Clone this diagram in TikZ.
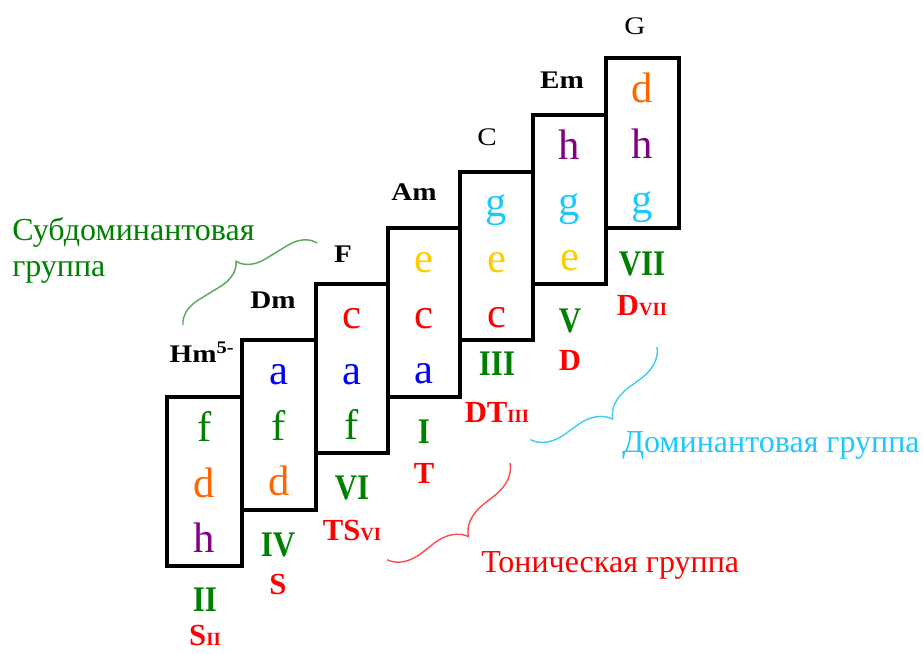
\documentclass[tikz,border=0pt]{standalone}
\usepackage{fontspec}
\setmainfont{Liberation Serif}
\newfontfamily\widefont[FakeStretch=1.15]{Liberation Serif}
\newfontfamily\narrowfont[FakeStretch=0.86]{Liberation Serif}
\usetikzlibrary{decorations.pathreplacing}
\definecolor{cgreen}{RGB}{0,128,0}
\definecolor{corange}{RGB}{255,102,0}
\definecolor{cpurple}{RGB}{128,0,128}
\definecolor{cblue}{RGB}{0,0,255}
\definecolor{cred}{RGB}{255,0,0}
\definecolor{cgold}{RGB}{255,204,0}
\definecolor{ccyan}{RGB}{30,200,255}
\definecolor{bgreen}{RGB}{90,170,90}
\definecolor{bred}{RGB}{255,80,80}
\definecolor{bcyan}{RGB}{70,205,240}
\newcommand{\subnum}[1]{{\fontsize{14}{14}\selectfont #1}}
\begin{document}
\begin{tikzpicture}[x=0.75pt,y=-0.75pt,
  box/.style={draw=black, line width=2.3pt},
  note/.style={font=\fontsize{32}{32}\selectfont, anchor=base, inner sep=0pt},
  chord/.style={font=\fontsize{19}{19}\selectfont\widefont\bfseries, anchor=base, inner sep=0pt},
  chordr/.style={font=\fontsize{19}{19}\selectfont\widefont, anchor=base, inner sep=0pt},
  deg/.style={font=\fontsize{27}{27}\selectfont\narrowfont\bfseries, text=cgreen, anchor=base, inner sep=0pt},
  fn/.style={font=\fontsize{23}{23}\selectfont\bfseries, text=cred, anchor=base, inner sep=0pt},
  grp/.style={font=\fontsize{24}{24}\selectfont, anchor=base west, inner sep=0pt},
  brc/.style={decorate, line width=1.1pt}]
\useasboundingbox (0,0) rectangle (923,653);

% boxes
\draw[box] (167,397) rectangle (242,566);
\draw[box] (242,340) rectangle (316,510);
\draw[box] (316,284) rectangle (388,453);
\draw[box] (388,228) rectangle (460,397);
\draw[box] (460,172) rectangle (533,340);
\draw[box] (533,115) rectangle (606,284);
\draw[box] (606,58) rectangle (679,228);

% box 1
\node[note, text=cgreen]  (n1a) at (204.5,441) {f};
\node[note, text=corange] (n1b) at (204.5,497) {d};
\node[note, text=cpurple] (n1c) at (204.5,552) {h};
% box 2
\node[note, text=cblue]   (n2a) at (279,384) {a};
\node[note, text=cgreen]  (n2b) at (279,440) {f};
\node[note, text=corange] (n2c) at (279,495) {d};
% box 3
\node[note, text=cred]    (n3a) at (352,328) {c};
\node[note, text=cblue]   (n3b) at (352,384) {a};
\node[note, text=cgreen]  (n3c) at (352,439) {f};
% box 4
\node[note, text=cgold]   (n4a) at (424,272) {e};
\node[note, text=cred]    (n4b) at (424,328) {c};
\node[note, text=cblue]   (n4c) at (424,383) {a};
% box 5
\node[note, text=ccyan]   (n5a) at (496.5,216) {g};
\node[note, text=cgold]   (n5b) at (496.5,272) {e};
\node[note, text=cred]    (n5c) at (496.5,327) {c};
% box 6
\node[note, text=cpurple] (n6a) at (569.5,159) {h};
\node[note, text=ccyan]   (n6b) at (569.5,215) {g};
\node[note, text=cgold]   (n6c) at (569.5,270) {e};
% box 7
\node[note, text=corange] (n7a) at (642.5,102) {d};
\node[note, text=cpurple] (n7b) at (642.5,158) {h};
\node[note, text=ccyan]   (n7c) at (642.5,213) {g};

% chord names
\node[chord]  (c1) at (202,362) {Hm\textsuperscript{5-}};
\node[chord]  (c2) at (273,308) {Dm};
\node[chord]  (c3) at (343,262) {F};
\node[chord]  (c4) at (414,200) {Am};
\node[chordr] (c5) at (487,145) {C};
\node[chord]  (c6) at (562,88) {Em};
\node[chordr] (c7) at (635,34) {G};

% degrees
\node[deg] (d1) at (205,611) {II};
\node[deg] (d2) at (278,556) {IV};
\node[deg] (d3) at (352,499) {VI};
\node[deg] (d4) at (424,443) {I};
\node[deg] (d5) at (497,375) {III};
\node[deg] (d6) at (570,332) {V};
\node[deg] (d7) at (642,275) {VII};

% functions
\node[fn] (f1) at (205,645) {S\subnum{II}};
\node[fn] (f2) at (278,594) {S};
\node[fn] (f3) at (352,540) {TS\subnum{VI}};
\node[fn] (f4) at (424,483) {T};
\node[fn] (f5) at (497,422) {DT\subnum{III}};
\node[fn] (f6) at (570,370) {D};
\node[fn] (f7) at (642,315) {D\subnum{VII}};

% group labels
\node[grp, text=cgreen] (g1) at (12,240) {Субдоминантовая};
\node[grp, text=cgreen] (g2) at (12,276) {группа};
\node[grp, text=ccyan]  (g3) at (622,452) {Доминантовая группа};
\node[grp, text=cred]   (g4) at (481,572) {Тоническая группа};

% braces
\coordinate (sgA) at (183,325);
\coordinate (sgB) at (317,243);
\coordinate (tgA) at (510,463);
\coordinate (tgB) at (387,560);
\coordinate (dgA) at (657,347);
\coordinate (dgB) at (530,440);
\draw[brc, draw=bgreen, decoration={brace, amplitude=20pt}] (sgA) -- (sgB);
\draw[brc, draw=bred, decoration={brace, amplitude=24pt}] (tgA) -- (tgB);
\draw[brc, draw=bcyan, decoration={brace, amplitude=24pt}] (dgA) -- (dgB);
\end{tikzpicture}
\end{document}
